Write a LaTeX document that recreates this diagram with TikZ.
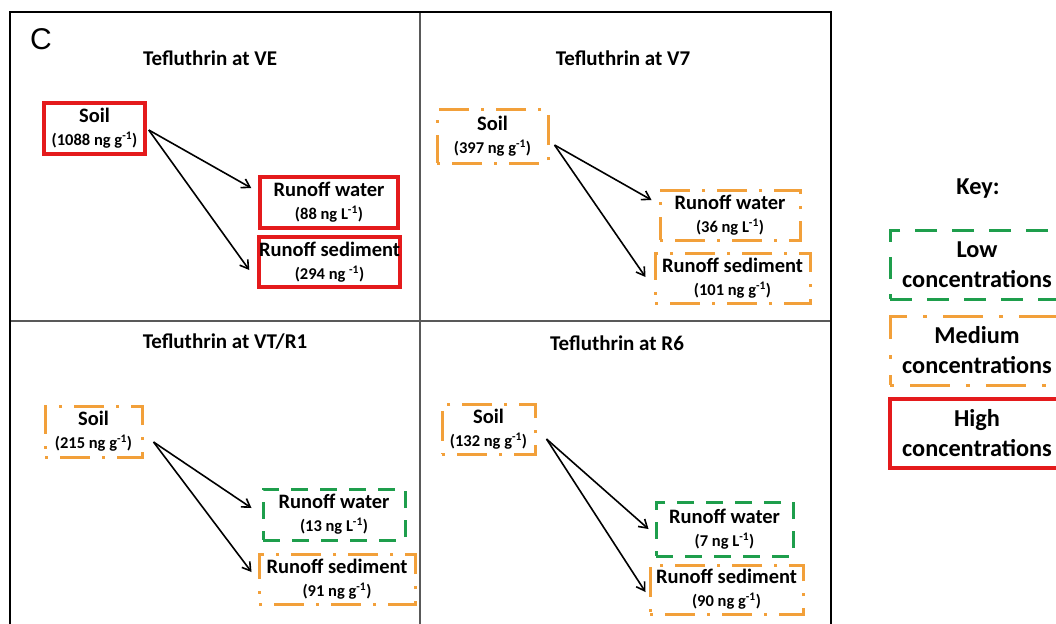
\documentclass[tikz,border=0pt]{standalone}
\usepackage{fontspec}
\setmainfont{Carlito}
\newfontfamily\arialfont{Liberation Sans}
\usetikzlibrary{arrows.meta,calc}
\definecolor{hired}{RGB}{228,26,28}
\definecolor{medorange}{RGB}{242,160,58}
\definecolor{lowgreen}{RGB}{30,158,76}
\newcommand{\secline}[1]{{\fontsize{16.5}{20}\selectfont #1}}
\begin{document}
\begin{tikzpicture}[x=1pt,y=-1pt,
  conc/.style={align=center,inner sep=0pt,font=\bfseries\fontsize{20.5}{23}\selectfont},
  highbox/.style={conc,draw=hired,line width=3.5pt},
  medbox/.style={conc,draw=medorange,line width=3pt,dash pattern=on 3pt off 12pt on 30pt off 12pt},
  lowbox/.style={conc,draw=lowgreen,line width=3pt,dash pattern=on 17pt off 12pt},
  keyhigh/.style={highbox,font=\bfseries\fontsize{24.3}{30}\selectfont},
  keymed/.style={medbox,font=\bfseries\fontsize{24.3}{30}\selectfont,dash pattern=on 4pt off 16pt on 40pt off 16pt},
  keylow/.style={lowbox,font=\bfseries\fontsize{24.3}{30}\selectfont,dash pattern=on 22pt off 15pt},
  paneltitle/.style={inner sep=0pt,font=\bfseries\fontsize{21}{24}\selectfont},
  flow/.style={line width=1.6pt,-{Straight Barb[length=8pt,width=10pt,line width=1.6pt]}},
  frame/.style={line width=1.5pt,black},
  divider/.style={line width=1.3pt,black!65}]
\useasboundingbox (0,0) rectangle (1056,623);
\clip (0,0) rectangle (1056,623);
\fill[white] (0,0) rectangle (1056,623);
% frame
\draw[divider] (10,321) -- (831,321);
\draw[divider] (420,12) -- (420,640);
\draw[frame] (10,12) rectangle (831,640);
\node[font=\arialfont\fontsize{30}{34}\selectfont,inner sep=0pt] (lab) at (41,39) {C};
% panel 1
\node[paneltitle] (t1) at (210,58) {Tefluthrin at VE};
\node[highbox,minimum width=101pt,minimum height=51pt] (soil1) at (94.5,128.5) {Soil\\\secline{(1088 ng g\textsuperscript{-1})}};
\node[highbox,minimum width=138pt,minimum height=51pt] (water1) at (329,202.5) {Runoff water\\\secline{(88 ng L\textsuperscript{-1})}};
\node[highbox,minimum width=139pt,minimum height=50pt] (sed1) at (329.5,262) {Runoff sediment\\\secline{(294 ng \textsuperscript{-1})}};
\draw[flow] ($(soil1.east)+(2,1.5)$) -- ($(water1.west)+(-7,-14.5)$);
\draw[flow] ($(soil1.east)+(2,1.5)$) -- ($(sed1.west)+(-8,8)$);
% panel 2
\node[paneltitle] (t2) at (623,58) {Tefluthrin at V7};
\node[medbox,minimum width=111pt,minimum height=53pt] (soil2) at (492.5,136.5) {Soil\\\secline{(397 ng g\textsuperscript{-1})}};
\node[medbox,minimum width=140pt,minimum height=50pt] (water2) at (730,215) {Runoff water\\\secline{(36 ng L\textsuperscript{-1})}};
\node[medbox,minimum width=155pt,minimum height=50pt] (sed2) at (732.5,278) {Runoff sediment\\\secline{(101 ng g\textsuperscript{-1})}};
\draw[flow] ($(soil2.east)+(5,8.5)$) -- ($(water2.west)+(-7,-15)$);
\draw[flow] ($(soil2.east)+(5,8.5)$) -- ($(sed2.west)+(-8,-1)$);
% panel 3
\node[paneltitle] (t3) at (225,342) {Tefluthrin at VT/R1};
\node[medbox,minimum width=97pt,minimum height=51pt] (soil3) at (93.5,431.5) {Soil\\\secline{(215 ng g\textsuperscript{-1})}};
\node[lowbox,minimum width=142pt,minimum height=51pt] (water3) at (334,514.5) {Runoff water\\\secline{(13 ng L\textsuperscript{-1})}};
\node[medbox,minimum width=156pt,minimum height=50pt] (sed3) at (337,579) {Runoff sediment\\\secline{(91 ng g\textsuperscript{-1})}};
\draw[flow] ($(soil3.east)+(10,10.5)$) -- ($(water3.west)+(-10,-6.5)$);
\draw[flow] ($(soil3.east)+(10,10.5)$) -- ($(sed3.west)+(-6,-7)$);
% panel 4
\node[paneltitle] (t4) at (617,343) {Tefluthrin at R6};
\node[medbox,minimum width=93pt,minimum height=50pt] (soil4) at (488.5,429) {Soil\\\secline{(132 ng g\textsuperscript{-1})}};
\node[lowbox,minimum width=137pt,minimum height=54pt] (water4) at (724.5,529) {Runoff water\\\secline{(7 ng L\textsuperscript{-1})}};
\node[medbox,minimum width=153pt,minimum height=49pt] (sed4) at (726.5,589.5) {Runoff sediment\\\secline{(90 ng g\textsuperscript{-1})}};
\draw[flow] ($(soil4.east)+(10,10)$) -- ($(water4.west)+(-6,0)$);
\draw[flow] ($(soil4.east)+(10,10)$) -- ($(sed4.west)+(-3,2.5)$);
% key
\node[inner sep=0pt,font=\bfseries\fontsize{24.3}{28}\selectfont] (key) at (978,189) {Key:};
\node[keylow,minimum width=174pt,minimum height=69pt] (klow) at (977,264.5) {Low\\concentrations};
\node[keymed,minimum width=174pt,minimum height=69pt] (kmed) at (977,350.5) {Medium\\concentrations};
\node[keyhigh,minimum width=174pt,minimum height=69pt] (khigh) at (977,433.5) {High\\concentrations};
\end{tikzpicture}
\end{document}
